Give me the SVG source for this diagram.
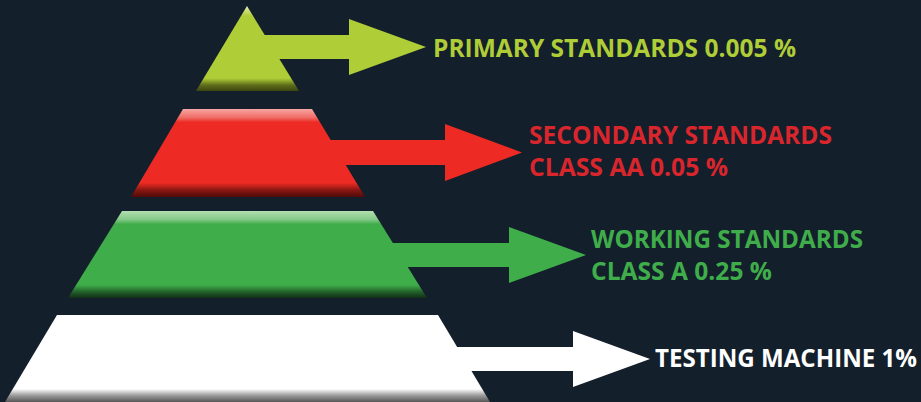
<svg xmlns="http://www.w3.org/2000/svg" width="921" height="402" viewBox="0 0 921 402">
  <defs>
    <linearGradient id="gLime" x1="0" y1="0" x2="0" y2="1">
      <stop offset="0" stop-color="#e4eeb0"/>
      <stop offset="0.12" stop-color="#afcd36"/>
      <stop offset="0.85" stop-color="#afcd36"/>
      <stop offset="0.93" stop-color="#5f6e1a"/>
      <stop offset="1" stop-color="#3c4510"/>
    </linearGradient>
    <linearGradient id="gRed" x1="0" y1="0" x2="0" y2="1">
      <stop offset="0" stop-color="#f7a6a2"/>
      <stop offset="0.1" stop-color="#f06a64"/>
      <stop offset="0.15" stop-color="#ee2a24"/>
      <stop offset="0.84" stop-color="#ee2a24"/>
      <stop offset="0.92" stop-color="#8a1712"/>
      <stop offset="1" stop-color="#4e0b09"/>
    </linearGradient>
    <linearGradient id="gGreen" x1="0" y1="0" x2="0" y2="1">
      <stop offset="0" stop-color="#b2e0b2"/>
      <stop offset="0.1" stop-color="#82c886"/>
      <stop offset="0.15" stop-color="#3fae4a"/>
      <stop offset="0.85" stop-color="#3fae4a"/>
      <stop offset="0.93" stop-color="#22602a"/>
      <stop offset="1" stop-color="#112e16"/>
    </linearGradient>
    <linearGradient id="gWhite" x1="0" y1="0" x2="0" y2="1">
      <stop offset="0" stop-color="#ffffff"/>
      <stop offset="0.85" stop-color="#ffffff"/>
      <stop offset="0.92" stop-color="#a0a0a0"/>
      <stop offset="1" stop-color="#555555"/>
    </linearGradient>
  </defs>
  <style>
    .label { font-family: "Open Sans", "Liberation Sans", sans-serif; font-weight: 700; font-size: 24.5px; }
    .lime { fill: #afcd36; }
    .red { fill: #ee2a24; }
    .redText { fill: #d9262c; }
    .green { fill: #3fae4a; }
    .white { fill: #ffffff; }
  </style>
  <rect width="921" height="402" fill="#141f2c"/>

  <!-- arrows pointing from each tier to its label -->
  <g id="connectors">
    <path class="lime" d="M255,35 L349,35 L349,19 L426,47 L349,75 L349,59 L255,59 Z"/>
    <path class="red" d="M320,140 L445,140 L445,124 L522,152.5 L445,181 L445,165 L320,165 Z"/>
    <path class="green" d="M385,243 L509,243 L509,227 L586,255 L509,283 L509,267 L385,267 Z"/>
    <path class="white" d="M450,347 L573,347 L573,331 L650,359 L573,387 L573,371 L450,371 Z"/>
  </g>

  <g id="primary">
    <path d="M247,6 L299,91 L196,91 Z" fill="url(#gLime)"/>
    <text class="label lime" x="433" y="56.5" textLength="363" lengthAdjust="spacingAndGlyphs">PRIMARY STANDARDS 0.005 %</text>
  </g>

  <g id="secondary">
    <path d="M183,109 L312,109 L365,197 L131,197 Z" fill="url(#gRed)"/>
    <text class="label redText" x="529" y="143.5" textLength="303" lengthAdjust="spacingAndGlyphs">SECONDARY STANDARDS</text>
    <text class="label redText" x="529" y="175.5" textLength="199" lengthAdjust="spacingAndGlyphs">CLASS AA 0.05 %</text>
  </g>

  <g id="working">
    <path d="M122,211 L373,211 L427,298 L68,298 Z" fill="url(#gGreen)"/>
    <text class="label green" x="591" y="247.5" textLength="272" lengthAdjust="spacingAndGlyphs">WORKING STANDARDS</text>
    <text class="label green" x="591" y="280" textLength="181" lengthAdjust="spacingAndGlyphs">CLASS A 0.25 %</text>
  </g>

  <g id="testing">
    <path d="M57,315 L438,315 L490,402 L5,402 Z" fill="url(#gWhite)"/>
    <text class="label white" x="655" y="366.5" textLength="262" lengthAdjust="spacingAndGlyphs">TESTING MACHINE 1%</text>
  </g>
</svg>
